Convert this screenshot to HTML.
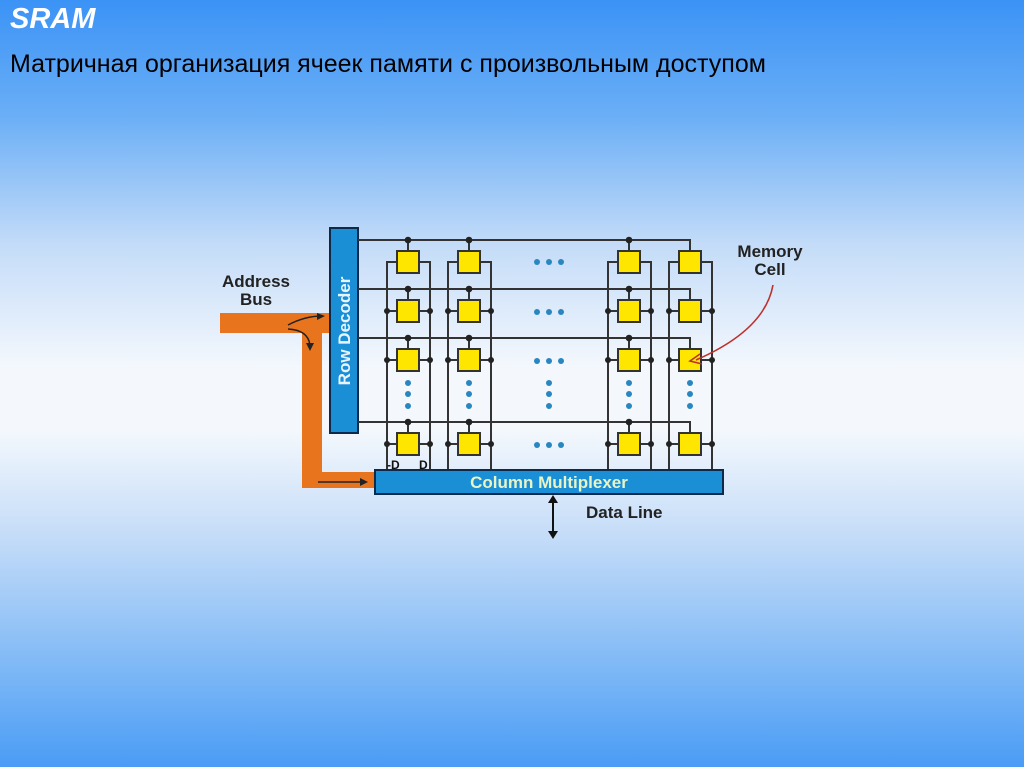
<!DOCTYPE html>
<html><head><meta charset="utf-8"><style>
html,body{margin:0;padding:0;}
body{width:1024px;height:767px;overflow:hidden;position:relative;font-family:"Liberation Sans",sans-serif;
background:linear-gradient(to bottom,#3b93f6 0%,#6aaef6 15%,#c4dcf8 32%,#f4f8fd 48%,#f4f8fd 56%,#c4dcf8 70%,#7ab6f6 88%,#4a9cf6 100%);}
.t1{position:absolute;left:10px;top:3px;font-size:29px;font-weight:bold;font-style:italic;color:#fff;}
.t2{position:absolute;left:10px;top:50px;font-size:25px;color:#000;}
svg{position:absolute;left:0;top:0;}
</style></head><body>
<div class="t1">SRAM</div>
<div class="t2">Матричная организация ячеек памяти с произвольным доступом</div>
<svg width="1024" height="767" viewBox="0 0 1024 767" font-family="Liberation Sans, sans-serif">
<path d="M220,313 H330 V333 H322 V472 H375 V488 H302 V333 H220 Z" fill="#e8751e"/>
<path d="M288,325 Q305,316 322,316" stroke="#222" stroke-width="1.5" fill="none"/>
<path d="M317,313 L325,316 L317,320 Z" fill="#222"/>
<path d="M288,329 Q308,330 310,345" stroke="#222" stroke-width="1.5" fill="none"/>
<path d="M306,343 L310,351 L314,343 Z" fill="#222"/>
<line x1="318" y1="482" x2="362" y2="482" stroke="#222" stroke-width="1.5"/>
<path d="M360,478 L368,482 L360,486 Z" fill="#222"/>
<rect x="330" y="228" width="28" height="205" fill="#1a8fd6" stroke="#0d2a4a" stroke-width="2"/>
<text transform="translate(350,331) rotate(-90)" text-anchor="middle" font-size="17" font-weight="bold" fill="#e8f4ff">Row Decoder</text>
<g stroke="#333" stroke-width="2" fill="none">
<path d="M358,240 H690 V251"/><path d="M358,289 H690 V300"/><path d="M358,338 H690 V349"/><path d="M358,422 H690 V433"/>
<path d="M408,240V251M469,240V251M629,240V251M408,289V300M469,289V300M629,289V300M408,338V349M469,338V349M629,338V349M408,422V433M469,422V433M629,422V433"/>
<path d="M397,262H387V470M419,262H430V470M387,311H397M387,360H397M387,444H397M430,311H419M430,360H419M430,444H419"/>
<path d="M458,262H448V470M480,262H491V470M448,311H458M448,360H458M448,444H458M491,311H480M491,360H480M491,444H480"/>
<path d="M618,262H608V470M640,262H651V470M608,311H618M608,360H618M608,444H618M651,311H640M651,360H640M651,444H640"/>
<path d="M679,262H669V470M701,262H712V470M669,311H679M669,360H679M669,444H679M712,311H701M712,360H701M712,444H701"/>
</g>
<g fill="#222">
<circle cx="408" cy="240" r="3.3"/><circle cx="469" cy="240" r="3.3"/><circle cx="629" cy="240" r="3.3"/>
<circle cx="408" cy="289" r="3.3"/><circle cx="469" cy="289" r="3.3"/><circle cx="629" cy="289" r="3.3"/>
<circle cx="408" cy="338" r="3.3"/><circle cx="469" cy="338" r="3.3"/><circle cx="629" cy="338" r="3.3"/>
<circle cx="408" cy="422" r="3.3"/><circle cx="469" cy="422" r="3.3"/><circle cx="629" cy="422" r="3.3"/>
<circle cx="387" cy="311" r="3"/><circle cx="430" cy="311" r="3"/><circle cx="448" cy="311" r="3"/><circle cx="491" cy="311" r="3"/><circle cx="608" cy="311" r="3"/><circle cx="651" cy="311" r="3"/><circle cx="669" cy="311" r="3"/><circle cx="712" cy="311" r="3"/>
<circle cx="387" cy="360" r="3"/><circle cx="430" cy="360" r="3"/><circle cx="448" cy="360" r="3"/><circle cx="491" cy="360" r="3"/><circle cx="608" cy="360" r="3"/><circle cx="651" cy="360" r="3"/><circle cx="669" cy="360" r="3"/><circle cx="712" cy="360" r="3"/>
<circle cx="387" cy="444" r="3"/><circle cx="430" cy="444" r="3"/><circle cx="448" cy="444" r="3"/><circle cx="491" cy="444" r="3"/><circle cx="608" cy="444" r="3"/><circle cx="651" cy="444" r="3"/><circle cx="669" cy="444" r="3"/><circle cx="712" cy="444" r="3"/>
</g>
<g fill="#ffe600" stroke="#333" stroke-width="2">
<rect x="397" y="251" width="22" height="22"/><rect x="458" y="251" width="22" height="22"/><rect x="618" y="251" width="22" height="22"/><rect x="679" y="251" width="22" height="22"/>
<rect x="397" y="300" width="22" height="22"/><rect x="458" y="300" width="22" height="22"/><rect x="618" y="300" width="22" height="22"/><rect x="679" y="300" width="22" height="22"/>
<rect x="397" y="349" width="22" height="22"/><rect x="458" y="349" width="22" height="22"/><rect x="618" y="349" width="22" height="22"/><rect x="679" y="349" width="22" height="22"/>
<rect x="397" y="433" width="22" height="22"/><rect x="458" y="433" width="22" height="22"/><rect x="618" y="433" width="22" height="22"/><rect x="679" y="433" width="22" height="22"/>
</g>
<g fill="#2a86c0">
<circle cx="537" cy="262" r="3"/><circle cx="549" cy="262" r="3"/><circle cx="561" cy="262" r="3"/>
<circle cx="537" cy="312" r="3"/><circle cx="549" cy="312" r="3"/><circle cx="561" cy="312" r="3"/>
<circle cx="537" cy="361" r="3"/><circle cx="549" cy="361" r="3"/><circle cx="561" cy="361" r="3"/>
<circle cx="537" cy="445" r="3"/><circle cx="549" cy="445" r="3"/><circle cx="561" cy="445" r="3"/>
<circle cx="408" cy="383" r="3"/><circle cx="408" cy="394" r="3"/><circle cx="408" cy="406" r="3"/>
<circle cx="469" cy="383" r="3"/><circle cx="469" cy="394" r="3"/><circle cx="469" cy="406" r="3"/>
<circle cx="549" cy="383" r="3"/><circle cx="549" cy="394" r="3"/><circle cx="549" cy="406" r="3"/>
<circle cx="629" cy="383" r="3"/><circle cx="629" cy="394" r="3"/><circle cx="629" cy="406" r="3"/>
<circle cx="690" cy="383" r="3"/><circle cx="690" cy="394" r="3"/><circle cx="690" cy="406" r="3"/>
</g>
<text x="387" y="469" font-size="12" font-weight="bold" fill="#111">-D</text>
<text x="419" y="469" font-size="12" font-weight="bold" fill="#111">D</text>
<rect x="375" y="470" width="348" height="24" fill="#1a8fd6" stroke="#0d2a4a" stroke-width="2"/>
<text x="549" y="488" text-anchor="middle" font-size="17" font-weight="bold" fill="#e8f4c8">Column Multiplexer</text>
<line x1="553" y1="500" x2="553" y2="534" stroke="#111" stroke-width="2"/>
<path d="M548,503 L553,495 L558,503 Z M548,531 L553,539 L558,531 Z" fill="#111"/>
<text x="586" y="518" font-size="17" font-weight="bold" fill="#222">Data Line</text>
<text x="256" y="287" text-anchor="middle" font-size="17" font-weight="bold" fill="#222">Address</text>
<text x="256" y="305" text-anchor="middle" font-size="17" font-weight="bold" fill="#222">Bus</text>
<text x="770" y="257" text-anchor="middle" font-size="17" font-weight="bold" fill="#222">Memory</text>
<text x="770" y="275" text-anchor="middle" font-size="17" font-weight="bold" fill="#222">Cell</text>
<path d="M773,285 Q765,330 696,360" stroke="#c0302a" stroke-width="1.6" fill="none"/>
<path d="M700,354 L690,361 L702,364" stroke="#c0302a" stroke-width="1.6" fill="none"/>
</svg>
</body></html>
